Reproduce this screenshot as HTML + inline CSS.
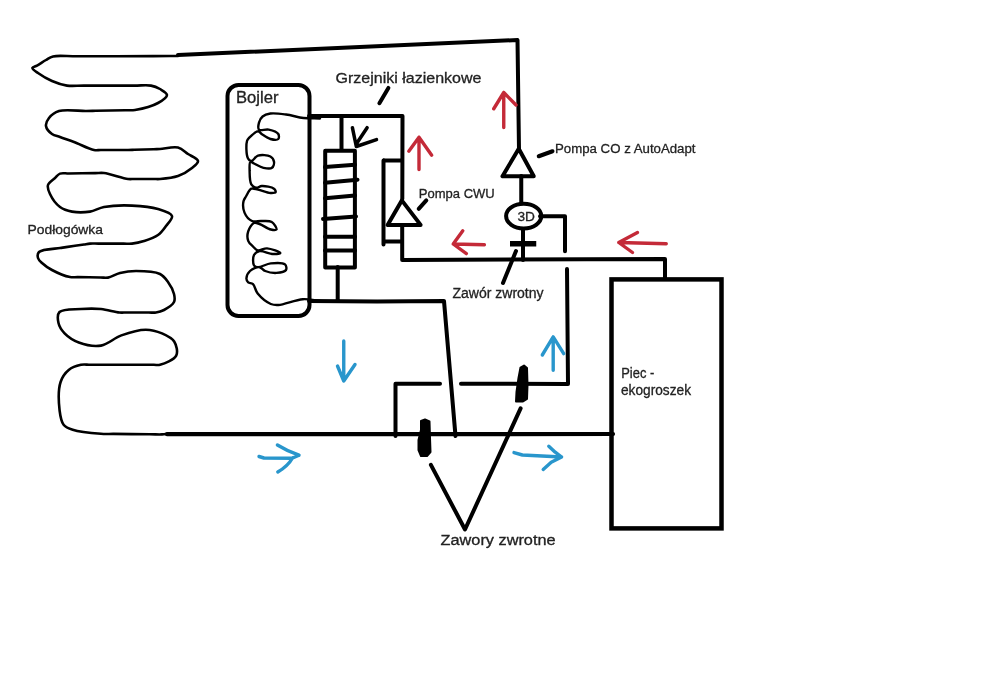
<!DOCTYPE html>
<html><head><meta charset="utf-8">
<style>
html,body{margin:0;padding:0;background:#fff;width:1000px;height:690px;overflow:hidden}
svg{display:block}
text{font-family:"Liberation Sans",sans-serif;fill:#222;stroke:#222;stroke-width:0.3px}
</style></head>
<body>
<svg width="1000" height="690" viewBox="0 0 1000 690">
<rect width="1000" height="690" fill="#fff"/>
<g fill="none" stroke="#000" stroke-linecap="round" stroke-linejoin="round">
<!-- floor heating -->
<path stroke-width="2.6" d="M178.0,56.0 C169.7,56.0 163.6,56.0 153.0,56.1 C134.7,56.1 96.3,56.3 78.0,56.3 C67.4,56.4 58.7,55.0 53.0,56.4 C49.8,57.2 48.4,58.6 46.0,60.0 C43.2,61.6 39.5,64.2 37.0,65.6 C35.2,66.6 32.5,66.9 32.4,68.0 C32.2,69.3 35.6,71.3 38.0,73.0 C41.5,75.5 47.1,78.9 52.0,81.0 C56.8,83.1 61.8,84.8 67.0,85.6 C72.4,86.4 76.7,85.6 83.8,85.6 C96.1,85.6 121.9,85.6 134.2,85.6 C141.3,85.6 146.3,84.7 151.0,85.6 C154.5,86.2 157.3,87.4 160.0,89.0 C162.6,90.6 167.0,92.8 167.0,95.0 C167.0,97.5 162.0,100.8 158.0,103.0 C152.3,106.2 141.1,109.0 135.0,110.0 C131.1,110.6 129.3,110.1 125.2,110.2 C118.0,110.3 103.0,110.7 95.8,110.8 C91.7,110.9 90.1,111.0 86.0,111.0 C79.2,111.1 65.6,108.9 59.0,111.0 C54.6,112.4 51.2,115.2 49.0,118.0 C47.2,120.3 45.6,123.4 46.0,126.0 C46.4,128.8 49.5,132.2 52.0,134.0 C54.3,135.7 57.0,135.9 60.0,137.0 C64.0,138.5 68.9,140.1 74.0,142.0 C80.1,144.3 89.0,149.0 94.0,150.0 C96.8,150.5 97.9,150.0 100.8,150.0 C105.8,150.0 116.2,150.0 121.2,150.0 C124.1,150.0 125.8,150.0 128.0,150.0 C130.2,150.0 131.7,149.9 134.4,149.8 C139.1,149.7 148.9,149.3 153.6,149.2 C156.3,149.1 157.3,149.1 160.0,149.0 C164.5,148.8 173.0,146.4 178.0,147.6 C182.0,148.6 184.7,151.8 188.0,154.0 C191.4,156.2 197.7,158.5 198.0,161.0 C198.3,163.2 194.7,165.8 192.0,168.0 C188.5,170.9 183.1,174.2 178.0,176.0 C172.5,177.9 164.5,178.6 160.0,179.0 C157.3,179.2 156.3,179.0 153.6,179.0 C148.9,179.0 139.1,179.0 134.4,179.0 C131.7,179.0 130.8,179.3 128.0,179.0 C122.5,178.3 110.1,173.7 104.0,173.0 C100.4,172.6 98.9,173.1 95.2,173.1 C88.8,173.2 75.2,173.4 68.8,173.5 C65.1,173.5 62.4,172.7 60.0,173.6 C57.9,174.4 56.8,176.3 55.0,178.0 C52.8,180.0 48.8,182.3 48.0,185.0 C47.2,187.6 48.5,190.9 50.0,194.0 C51.9,198.1 56.0,204.0 60.0,207.0 C63.5,209.6 67.5,210.8 72.0,211.6 C77.3,212.6 84.4,212.5 90.0,211.6 C95.0,210.8 98.5,208.0 104.0,207.0 C111.7,205.6 122.9,205.2 132.0,205.6 C140.8,206.0 150.8,206.8 158.0,209.0 C163.6,210.7 171.1,212.8 172.0,216.0 C172.8,218.7 168.3,222.9 166.0,226.0 C163.7,229.2 161.4,232.6 158.0,235.0 C154.2,237.7 148.6,239.5 144.0,241.0 C139.9,242.3 135.7,243.2 132.0,243.6 C129.0,243.9 127.2,243.6 123.6,243.6 C117.5,243.6 104.5,243.6 98.4,243.6 C94.8,243.6 92.6,243.4 90.0,243.6 C87.8,243.8 86.5,244.1 84.0,244.5 C79.6,245.1 70.4,246.5 66.0,247.1 C63.5,247.5 62.6,247.6 60.0,248.0 C55.1,248.8 41.8,249.1 39.0,252.0 C37.5,253.6 37.5,256.2 38.0,258.0 C38.5,259.9 40.2,261.3 42.0,263.0 C44.5,265.3 48.0,267.9 52.0,270.0 C57.0,272.7 65.2,276.1 70.0,277.0 C73.0,277.6 74.4,277.1 77.6,277.1 C83.2,277.2 94.8,277.4 100.4,277.5 C103.6,277.5 105.2,278.1 108.0,277.6 C111.6,277.0 115.6,274.1 120.0,273.0 C124.9,271.8 130.1,271.0 136.0,271.0 C143.2,271.0 154.4,271.3 160.0,274.0 C163.8,275.9 165.7,278.9 168.0,282.0 C170.5,285.4 173.1,290.3 174.0,294.0 C174.7,296.9 175.2,299.6 174.0,302.0 C172.5,305.1 167.3,308.2 164.0,310.0 C161.3,311.4 158.6,312.1 156.0,312.5 C153.5,312.9 151.8,312.5 148.7,312.5 C143.3,312.5 132.1,312.5 126.7,312.5 C123.6,312.5 122.4,312.8 119.4,312.5 C114.6,312.1 107.3,309.6 101.0,309.0 C94.5,308.4 87.8,308.5 81.0,309.0 C73.9,309.5 62.8,308.6 59.5,312.0 C57.2,314.4 57.7,319.5 58.5,323.0 C59.3,326.7 61.7,330.3 64.6,333.4 C68.1,337.0 73.3,340.5 78.8,342.5 C85.2,344.9 93.9,346.8 101.0,345.6 C108.1,344.4 114.1,338.0 121.4,335.4 C129.0,332.6 138.5,329.7 145.8,329.7 C151.7,329.7 157.2,331.3 162.0,333.4 C166.6,335.4 171.8,337.8 174.2,341.5 C176.5,345.2 178.1,351.9 176.2,355.7 C174.1,360.0 164.2,363.7 160.0,364.8 C157.6,365.4 156.5,364.8 153.9,364.8 C149.4,364.8 140.1,364.8 135.6,364.8 C133.0,364.8 131.8,364.8 129.5,364.8 C126.6,364.8 123.9,364.8 119.8,364.8 C112.7,364.8 97.7,364.8 90.6,364.8 C86.5,364.8 84.3,364.1 80.9,364.8 C77.0,365.6 72.0,367.2 68.7,370.0 C65.2,372.9 62.3,376.8 60.6,382.0 C58.2,389.2 58.7,402.7 59.6,410.5 C60.3,416.1 61.0,421.5 63.6,424.7 C65.8,427.4 68.7,428.4 72.7,429.7 C79.4,431.9 93.5,433.2 101.0,433.8 C105.9,434.2 108.0,433.9 113.2,433.9 C122.1,434.0 140.9,434.2 149.8,434.3 C155.0,434.3 158.7,434.6 162.0,434.4 C164.4,434.3 166.0,434.0 168.0,433.8"/>
<!-- top line -->
<path stroke-width="4" d="M178,55 L517.5,40 L519,150"/>
<!-- main bottom line -->
<path stroke-width="4.2" d="M167,434.2 L613,434"/>
<!-- boiler box -->
<rect x="227.5" y="85" width="82" height="231" rx="11" ry="11" stroke-width="4"/>
<!-- coil -->
<path stroke-width="2.4" d="M320.0,118.5 C314.5,118.3 309.1,118.6 303.5,118.0 C297.7,117.3 291.7,115.2 286.0,114.5 C280.7,113.8 274.7,112.9 270.4,113.5 C267.3,114.0 264.5,114.9 262.6,116.5 C260.8,118.0 259.6,120.4 259.0,122.6 C258.4,124.8 257.7,128.3 259.0,129.6 C260.5,131.1 265.5,128.9 268.7,129.6 C272.0,130.3 277.0,132.0 278.3,134.0 C279.2,135.4 279.2,138.1 278.3,139.0 C277.1,140.2 273.0,139.7 270.4,139.0 C267.5,138.2 264.0,135.5 261.7,134.0 C260.2,133.0 259.5,131.3 258.0,131.3 C255.8,131.3 251.5,135.5 249.6,137.4 C248.4,138.7 247.5,139.2 247.0,141.0 C246.0,144.5 246.2,154.8 247.8,158.0 C248.6,159.7 249.9,161.0 251.3,161.0 C253.2,161.0 255.2,156.5 258.0,155.6 C261.3,154.6 267.7,155.0 270.4,156.5 C272.3,157.6 273.7,159.8 274.0,161.7 C274.3,163.6 273.5,166.7 272.0,167.8 C270.3,169.1 266.3,168.4 263.5,167.8 C260.3,167.1 256.4,164.6 254.0,163.5 C252.5,162.8 251.2,161.3 250.4,161.7 C249.2,162.3 249.6,167.2 249.6,170.4 C249.7,174.5 249.5,181.4 251.3,184.3 C252.5,186.2 254.7,187.6 256.5,187.8 C258.2,188.0 259.6,186.1 261.7,186.0 C264.9,185.8 271.9,187.0 274.0,188.7 C275.2,189.6 276.0,191.5 275.6,192.2 C275.1,193.1 272.5,193.1 270.4,193.0 C267.1,192.8 261.5,190.3 258.0,189.6 C255.4,189.1 253.2,187.9 251.3,188.7 C249.1,189.7 247.4,194.2 246.0,196.5 C244.9,198.3 243.9,199.3 243.5,201.3 C242.9,204.2 243.1,209.3 244.5,212.6 C245.9,215.9 249.0,219.7 252.0,221.0 C254.7,222.2 258.2,220.8 261.4,221.0 C264.8,221.2 269.3,220.4 271.8,222.0 C274.1,223.4 277.1,228.4 276.5,229.5 C276.0,230.4 273.0,230.0 270.8,229.5 C267.6,228.8 262.7,225.0 259.5,224.0 C257.4,223.3 255.7,222.3 254.0,223.0 C251.8,223.9 249.1,228.4 248.2,231.4 C247.3,234.3 247.2,238.2 248.2,240.8 C249.0,243.1 251.3,244.9 253.0,246.5 C254.5,248.0 255.7,249.8 257.7,250.3 C260.2,250.9 263.7,248.2 267.0,248.4 C271.1,248.7 280.4,252.1 280.3,253.0 C280.2,253.7 275.6,254.1 272.7,254.0 C268.9,253.9 262.8,250.5 259.5,251.2 C257.1,251.7 255.0,253.1 254.0,255.0 C252.7,257.4 252.8,263.4 254.0,265.3 C254.8,266.5 256.0,267.0 257.7,267.2 C260.7,267.5 266.3,263.9 270.8,263.4 C275.4,262.9 282.8,262.5 285.0,264.4 C286.4,265.6 286.8,268.6 286.0,270.0 C284.9,271.8 279.8,272.7 276.5,272.9 C272.9,273.1 268.2,272.2 265.2,271.0 C262.9,270.1 261.7,267.4 259.5,267.2 C256.8,266.9 252.2,268.9 250.0,271.0 C248.0,272.9 246.4,276.4 246.4,278.5 C246.4,280.0 247.2,281.4 248.2,282.3 C249.3,283.3 251.6,282.9 253.0,284.2 C255.0,286.0 255.3,290.6 257.7,293.6 C260.7,297.3 266.8,302.3 270.8,304.0 C273.5,305.1 275.2,305.2 278.4,305.0 C284.3,304.7 295.4,299.7 302.9,299.2 C309.1,298.8 314.3,300.4 320.0,301.0"/>
<!-- radiator pipes -->
<path stroke-width="4" d="M309,116 L402.5,116 L402.3,199"/>
<path stroke-width="4" d="M402.2,226 L402.2,260 L665,259 L665,279"/>
<path stroke-width="4" d="M341.5,116 L341.5,150"/>
<rect x="325.2" y="150.7" width="29.7" height="116.8" stroke-width="4"/>
<path stroke-width="4" d="M325,167.1 L355,164.7 M325,182.7 L357.5,179.7 M325,198.2 L355,195.5 M323,218.9 L356,216.4 M325,236.8 L355,236.8 M325,250.4 L355,250.4"/>
<path stroke-width="3.5" d="M352.4,127.7 L356.3,146.5 M367.1,127.7 L356.3,144 M376.5,139.6 L356.3,146.5"/>
<path stroke-width="4" d="M337.7,267 L337.7,301 M309,301 L377,301.5 L444,301 L455.5,436"/>
<!-- CWU pump -->
<path stroke-width="4" d="M384,160.5 L402,160.5 M383.5,160.5 L383.5,244.5 M383.5,241.5 L401.8,241.5"/>
<path stroke-width="4" d="M401.8,200.4 L387.6,224.9 L420.6,224.9 Z"/>
<path stroke-width="4" d="M418.7,208.8 L426.3,200.4"/>
<path stroke-width="4" d="M379.4,103.2 L388.4,87.9"/>
<!-- CO pump -->
<path stroke-width="4" d="M518.75,148.75 L502.5,176.25 L533.75,176.25 Z"/>
<path stroke-width="4" d="M521.25,176 L521.25,202.5"/>
<ellipse cx="523.7" cy="216.1" rx="17.6" ry="12.3" stroke-width="4"/>
<path stroke-width="4" d="M540,216.25 L565,216.25 L565,251.25"/>
<path stroke-width="4" d="M523,230 L523,260"/>
<path stroke-width="5.5" stroke-linecap="butt" d="M510,243.75 L536.25,243.75"/>
<path stroke-width="4" d="M538.75,156.25 L552.5,151.25"/>
<path stroke-width="4" d="M516,251 L503,283"/>
<!-- lower right pipe -->
<path stroke-width="4" d="M567,269 L568,384 L461,383.75 M440,383.75 L395.5,383.75 L395.5,436"/>
<!-- furnace -->
<rect x="611.5" y="279.4" width="110" height="249" stroke-width="4.5" stroke-linejoin="miter"/>
<!-- check valves thick -->
<path fill="#000" stroke-width="2" d="M421,421 L425,419.5 L429.5,421.5 L430,438 L430.5,452 L427,456 L421,456 L418.5,450 L418.5,440 L421,430 Z"/>
<path fill="#000" stroke-width="2" d="M520.5,367.5 L524,365.5 L527,368 L527.5,385 L527,399 L523,401.5 L516,401.5 L516.5,392 L518.5,378 Z"/>
<!-- V -->
<path stroke-width="4" d="M430.9,464.85 L465,529.5 L520.6,408.4"/>
</g>
<g fill="none" stroke="#c42a38" stroke-width="3.4" stroke-linecap="round" stroke-linejoin="round">
<path d="M419,169.5 L419,137.2 M408.8,151.2 L419,137.2 L431.7,155.2"/>
<path d="M503.75,127.5 L503.75,92.5 M493.75,108.75 L503.75,92.5 L516,105"/>
<path d="M484.4,244.7 L453.2,244 M462.8,230.8 L453.2,244 L466.4,253.6"/>
<path d="M666.25,243.75 L618.75,242.5 M637.5,232.5 L618.75,242.5 L632.5,252.5"/>
</g>
<g fill="none" stroke="#2996cc" stroke-width="3.4" stroke-linecap="round" stroke-linejoin="round">
<path d="M553.2,370.2 L553.2,336.9 M542.3,355 L553.2,336.9 L563.7,353.6"/>
<path d="M343.75,341 L343.75,381 M337.5,366 L343.75,381 L355,364.5"/>
<path d="M259,456.5 L264,458 L292,458.3 L299,455.2 M277.4,445 Q287,451 299,455.2 M277.8,472 Q288,466 292.5,458"/>
<path d="M514,452.6 L522.4,455 L561.6,457 M548.8,446.2 L555.2,452.2 L561.6,457 L551.2,462.2 L543.2,469.4"/>
</g>
<g style="will-change:transform">
<text x="236" y="103" font-size="16.3" textLength="42.5" lengthAdjust="spacingAndGlyphs">Bojler</text>
<text x="335.5" y="83" font-size="15" textLength="146" lengthAdjust="spacingAndGlyphs">Grzejniki łazienkowe</text>
<text x="418.75" y="197.5" font-size="13.5" textLength="76" lengthAdjust="spacingAndGlyphs">Pompa CWU</text>
<text x="555" y="153" font-size="13.7" textLength="140.5" lengthAdjust="spacingAndGlyphs">Pompa CO z AutoAdapt</text>
<text x="517.5" y="221" font-size="13.5" textLength="17.5" lengthAdjust="spacingAndGlyphs">3D</text>
<text x="452.4" y="298" font-size="14" textLength="91.2" lengthAdjust="spacingAndGlyphs">Zawór zwrotny</text>
<text x="621.25" y="377.5" font-size="14" textLength="33" lengthAdjust="spacingAndGlyphs">Piec -</text>
<text x="621" y="395" font-size="14" textLength="70" lengthAdjust="spacingAndGlyphs">ekogroszek</text>
<text x="440.6" y="544.8" font-size="14" textLength="115" lengthAdjust="spacingAndGlyphs">Zawory zwrotne</text>
<text x="27.5" y="234.4" font-size="13.3" textLength="75.5" lengthAdjust="spacingAndGlyphs">Podłogówka</text>
</g>
</svg>
</body></html>
